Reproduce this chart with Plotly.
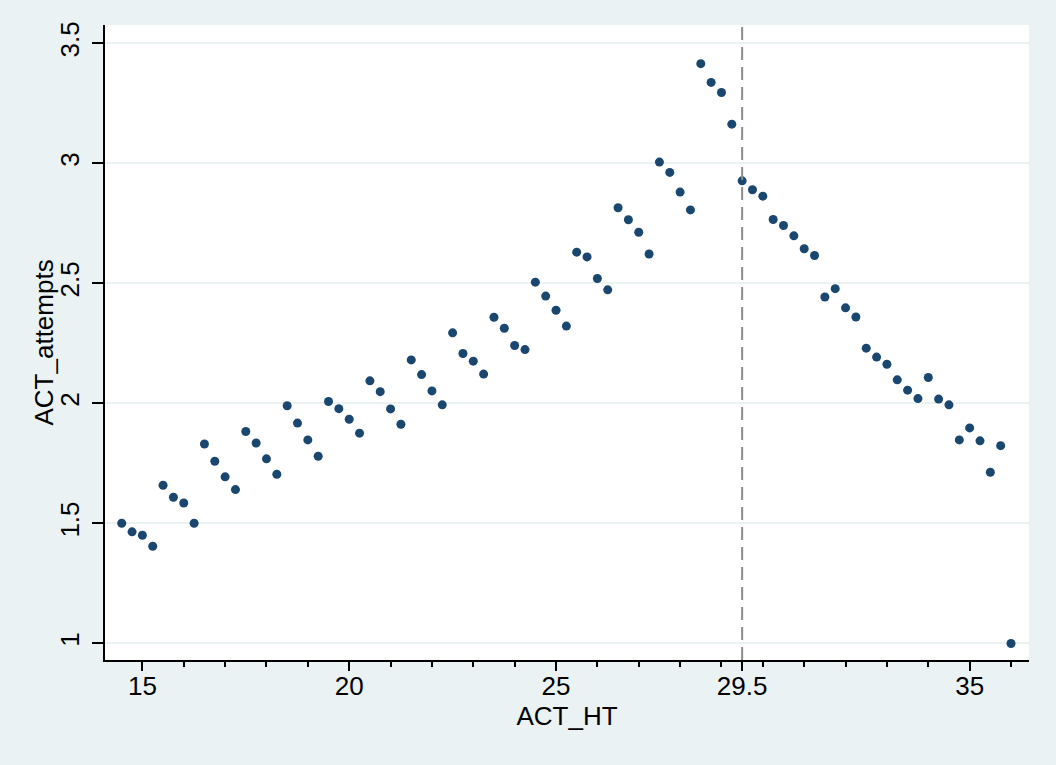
import plotly.graph_objects as go

# ---- data ----
act_ht_start = 14.5
act_ht_step = 0.25
act_attempts = [
    1.501, 1.465, 1.451, 1.405, 1.659, 1.609, 1.585, 1.501,
    1.831, 1.759, 1.694, 1.641, 1.883, 1.835, 1.769, 1.705,
    1.990, 1.918, 1.848, 1.780, 2.008, 1.978, 1.934, 1.876,
    2.094, 2.049, 1.977, 1.913, 2.181, 2.120, 2.052, 1.994,
    2.294, 2.208, 2.176, 2.122, 2.359, 2.313, 2.241, 2.224,
    2.505, 2.447, 2.388, 2.322, 2.630, 2.610, 2.520, 2.473,
    2.815, 2.765, 2.713, 2.622, 3.005, 2.962, 2.880, 2.806,
    3.415, 3.337, 3.295, 3.163, 2.927, 2.890, 2.863, 2.766,
    2.741, 2.698, 2.644, 2.616, 2.443, 2.478, 2.398, 2.360,
    2.230, 2.193, 2.163, 2.098, 2.055, 2.020, 2.108, 2.018,
    1.994, 1.848, 1.898, 1.844, 1.713, 1.824, 1.000,
]
act_ht = [act_ht_start + i * act_ht_step for i in range(len(act_attempts))]

x_tick_vals = [15, 20, 25, 29.5, 35]
x_tick_text = ["15", "20", "25", "29.5", "35"]
x_minor_vals = [16, 17, 18, 19, 21, 22, 23, 24, 26, 27, 28, 29, 30, 31, 32, 33, 34, 36]
y_tick_vals = [1, 1.5, 2, 2.5, 3, 3.5]
y_tick_text = ["1", "1.5", "2", "2.5", "3", "3.5"]
cutoff = 29.5

BG = "#EAF2F3"
MARK = "#1A476F"
FONT = "Liberation Sans, Arial, sans-serif"

W, H = 1056, 765
ML, MR, MT, MB = 105, 27, 25, 105

fig = go.Figure()
fig.add_trace(go.Scatter(
    x=act_ht, y=act_attempts, mode="markers",
    marker=dict(color=MARK, size=9, line=dict(width=0)),
    showlegend=False, hoverinfo="x+y",
))

fig.add_shape(type="line", xref="x", yref="paper", x0=cutoff, x1=cutoff, y0=0, y1=1,
              line=dict(color="#8C8C8C", width=2, dash="13px,7px"), layer="above")

# y-axis title placed as annotation (centre ~43px from the left edge)
fig.add_annotation(
    text="ACT_attempts", xref="paper", yref="paper",
    x=(43 - ML) / (W - ML - MR), y=0.5, xanchor="center", yanchor="middle",
    textangle=-90, showarrow=False, font=dict(size=26, family=FONT, color="black"),
)

fig.update_layout(
    width=W, height=H,
    paper_bgcolor=BG, plot_bgcolor="white",
    margin=dict(l=ML, r=MR, t=MT, b=MB),
    font=dict(family=FONT, size=26, color="black"),
    xaxis=dict(
        range=[14.096, 36.435],
        tickmode="array", tickvals=x_tick_vals, ticktext=x_tick_text,
        ticks="outside", ticklen=9, tickwidth=1.5, tickcolor="black",
        minor=dict(tickvals=x_minor_vals, ticks="outside", ticklen=5, tickwidth=1.5,
                   tickcolor="black", showgrid=False),
        showline=True, linecolor="black", linewidth=2,
        showgrid=False, zeroline=False,
        tickfont=dict(size=26),
        ticklabelstandoff=-7,
        title=dict(text="ACT_HT", font=dict(size=26), standoff=4),
    ),
    yaxis=dict(
        range=[0.93125, 3.576],
        tickmode="array", tickvals=y_tick_vals, ticktext=y_tick_text,
        ticks="outside", ticklen=11, tickwidth=1.5, tickcolor="black",
        tickangle=-90,
        showline=True, linecolor="black", linewidth=2,
        showgrid=True, gridcolor=BG, gridwidth=2,
        zeroline=False,
        tickfont=dict(size=26),
        ticklabelstandoff=3,
    ),
)

fig.write_html(
    "out.html",
    config={"displayModeBar": False},
    post_script="document.body.style.margin='0';document.body.style.background='%s';" % BG,
)
